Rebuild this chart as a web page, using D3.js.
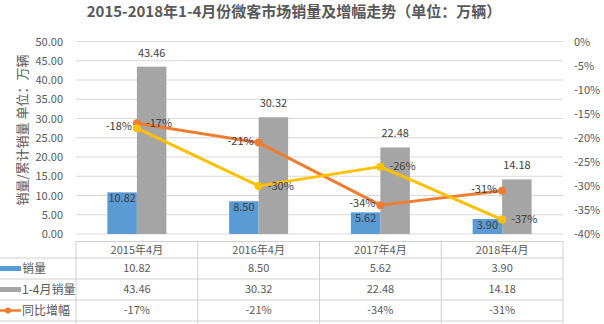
<!DOCTYPE html>
<html><head><meta charset="utf-8">
<script src="https://cdn.jsdelivr.net/npm/d3@7/dist/d3.min.js"></script>
<style>
html,body{margin:0;padding:0;background:#fff;overflow:hidden;}
svg{display:block;font-family:"Noto Sans CJK SC","Noto Sans",sans-serif;}
</style></head>
<body>
<svg id="chart" width="604" height="324"></svg>
<script>
const categories = ["2015年4月", "2016年4月", "2017年4月", "2018年4月"];
const salesName = "销量";
const sales = [10.82, 8.50, 5.62, 3.90];
const cumName = "1-4月销量";
const cumSales = [43.46, 30.32, 22.48, 14.18];
const yoyName = "同比增幅";
const yoy = [-0.17, -0.21, -0.34, -0.31];
const cumYoyName = "1-4月同比增幅";
const cumYoy = [-0.18, -0.30, -0.26, -0.37];
const leftTicks = [0, 5, 10, 15, 20, 25, 30, 35, 40, 45, 50];
const rightTicks = [0, -0.05, -0.10, -0.15, -0.20, -0.25, -0.30, -0.35, -0.40];
const title = "2015-2018年1-4月份微客市场销量及增幅走势（单位：万辆）";
const yTitle = "销量/累计销量 单位：万辆";

const svg = d3.select("#chart");
const L = 76, R = 563, T = 41.5, B = 234;
const textColor = "#595959";
const colBlue = "#5B9BD5", colGray = "#A5A5A5", colOrange = "#ED7D31", colYellow = "#FFC000";
const fmt2 = d => d.toFixed(2);
const pct = d => Math.round(d * 100) + "%";

const x = d3.scaleBand().domain(categories).range([L, R]);
const y = d3.scaleLinear().domain([0, 50]).range([B, T]);
const y2 = d3.scaleLinear().domain([-0.40, 0]).range([B, T]);

// title
svg.append("text").attr("x", 294).attr("y", 17).attr("text-anchor", "middle")
  .attr("font-size", 15).attr("font-weight", "bold").attr("fill", textColor).text(title);

// gridlines
svg.append("g").selectAll("line").data(leftTicks).join("line")
  .attr("x1", L).attr("x2", R).attr("y1", d => y(d)).attr("y2", d => y(d))
  .attr("stroke", "#D9D9D9").attr("stroke-width", 1);

// left axis
const yAxis = d3.axisLeft(y).tickValues(leftTicks).tickFormat(fmt2).tickSize(0).tickPadding(13);
const gy = svg.append("g").attr("transform", `translate(${L},0)`).call(yAxis);
gy.select(".domain").remove();
gy.selectAll("text").attr("font-size", 11).attr("fill", textColor).attr("font-family", "Noto Sans CJK SC");

// right axis
const y2Axis = d3.axisRight(y2).tickValues(rightTicks).tickFormat(pct).tickSize(0).tickPadding(11);
const gy2 = svg.append("g").attr("transform", `translate(${R},0)`).call(y2Axis);
gy2.select(".domain").remove();
gy2.selectAll("text").attr("font-size", 11).attr("fill", textColor).attr("font-family", "Noto Sans CJK SC");

// y axis title
svg.append("text").attr("transform", `translate(27,130) rotate(-90)`).attr("text-anchor", "middle")
  .attr("font-size", 13).attr("fill", textColor).text(yTitle);

// bars
const barW = 29.5;
const bars = svg.append("g");
bars.selectAll("rect.s").data(sales).join("rect")
  .attr("x", (d, i) => x(categories[i]) + x.bandwidth() / 2 - barW)
  .attr("y", d => y(d)).attr("width", barW).attr("height", d => B - y(d)).attr("fill", colBlue);
bars.selectAll("rect.c").data(cumSales).join("rect").attr("class", "c")
  .attr("x", (d, i) => x(categories[i]) + x.bandwidth() / 2)
  .attr("y", d => y(d)).attr("width", barW).attr("height", d => B - y(d)).attr("fill", colGray);

// bar labels
const lbl = svg.append("g").attr("font-size", 11).attr("fill", "#404040").attr("text-anchor", "middle");
lbl.selectAll("text.s").data(sales).join("text").attr("class", "s")
  .attr("x", (d, i) => x(categories[i]) + x.bandwidth() / 2 - barW / 2)
  .attr("y", d => y(d) + 6).attr("dy", "0.35em").text(fmt2);
lbl.selectAll("text.c").data(cumSales).join("text").attr("class", "c")
  .attr("x", (d, i) => x(categories[i]) + x.bandwidth() / 2 + barW / 2)
  .attr("y", d => y(d) - 14).attr("dy", "0.35em").text(fmt2);

// lines
const cx = (d, i) => x(categories[i]) + x.bandwidth() / 2;
function drawLine(vals, color, sideFn) {
  const line = d3.line().x(cx).y(d => y2(d));
  svg.append("path").datum(vals).attr("d", line).attr("fill", "none")
    .attr("stroke", color).attr("stroke-width", 3).attr("stroke-linejoin", "round");
  svg.append("g").selectAll("circle").data(vals).join("circle")
    .attr("cx", cx).attr("cy", d => y2(d)).attr("r", 4).attr("fill", color);
  svg.append("g").attr("font-size", 11).attr("fill", "#404040").selectAll("text").data(vals).join("text")
    .attr("x", (d, i) => cx(d, i) + (sideFn(i) === "left" ? -5 : 9))
    .attr("y", (d, i) => y2(d) + (sideFn(i) === "left" ? -1.5 : 0)).attr("dy", "0.35em")
    .attr("text-anchor", (d, i) => sideFn(i) === "left" ? "end" : "start")
    .text(pct);
}
drawLine(yoy, colOrange, i => i === 0 ? "right" : "left");
drawLine(cumYoy, colYellow, i => i === 0 ? "left" : "right");

// data table
const tTop = 241.5;
const rowEdges = [258, 279, 300, 321];
const rowH = 21;
const tbl = svg.append("g");
tbl.append("line").attr("x1", L).attr("x2", R).attr("y1", tTop).attr("y2", tTop).attr("stroke", "#D0D0D0");
tbl.selectAll("line.h").data(rowEdges).join("line").attr("class", "h")
  .attr("x1", 0).attr("x2", R).attr("y1", d => d).attr("y2", d => d).attr("stroke", "#D0D0D0");
const vx = categories.map(c => x(c)).concat([R]);
tbl.selectAll("line.v").data(vx).join("line").attr("class", "v")
  .attr("x1", d => d).attr("x2", d => d).attr("y1", tTop).attr("y2", 330).attr("stroke", "#D0D0D0");
// header
tbl.selectAll("text.hd").data(categories).join("text").attr("class", "hd")
  .attr("x", d => x(d) + x.bandwidth() / 2).attr("y", (tTop + rowEdges[0]) / 2 + 0.5).attr("dy", "0.35em")
  .attr("text-anchor", "middle").attr("font-size", 11).attr("fill", textColor).text(d => d);

const rows = [
  { name: salesName, vals: sales.map(fmt2), key: "bar", color: colBlue },
  { name: cumName, vals: cumSales.map(fmt2), key: "bar", color: colGray },
  { name: yoyName, vals: yoy.map(pct), key: "line", color: colOrange },
  { name: cumYoyName, vals: cumYoy.map(pct), key: "line", color: colYellow }
];
rows.forEach((r, ri) => {
  const cy = rowEdges[ri] + rowH / 2;
  const g = tbl.append("g");
  if (r.key === "bar") {
    g.append("rect").attr("x", 0).attr("y", cy - 2.5).attr("width", 21).attr("height", 5).attr("fill", r.color);
  } else {
    g.append("line").attr("x1", 0).attr("x2", 21).attr("y1", cy).attr("y2", cy).attr("stroke", r.color).attr("stroke-width", 2.5);
    g.append("circle").attr("cx", 8).attr("cy", cy).attr("r", 3).attr("fill", r.color);
  }
  // the last row lies below the visible area (cut off in the reference), so its texts are not drawn
  if (cy < 324) {
    g.append("text").attr("x", 22).attr("y", cy).attr("dy", "0.35em").attr("font-size", 12).attr("fill", textColor).text(r.name);
    g.selectAll("text.v").data(r.vals).join("text").attr("class", "v")
      .attr("x", (d, i) => x(categories[i]) + x.bandwidth() / 2).attr("y", cy).attr("dy", "0.35em")
      .attr("text-anchor", "middle").attr("font-size", 11).attr("fill", textColor).text(d => d);
  }
});
</script>
</body></html>
